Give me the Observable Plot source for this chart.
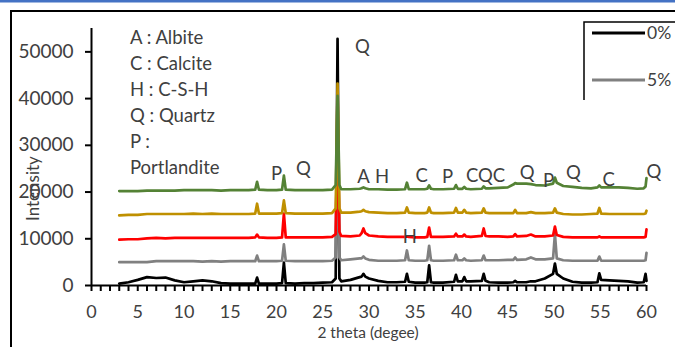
<!DOCTYPE html>
<html><head><meta charset="utf-8">
<script src="https://cdn.jsdelivr.net/npm/d3@7"></script>
<script src="https://cdn.jsdelivr.net/npm/@observablehq/plot@0.6"></script>
<style>
html,body{margin:0;padding:0;background:#fff;overflow:hidden}
#chart{position:relative;width:675px;height:347px}
</style></head><body><div id="chart"></div>
<script>
// 2 theta grid (degrees)
const theta = [3,4,5,6,7,8,9,10,11,12,13,14,15,16,17,17.7,17.9,18.1,19,20,20.6,20.8,21.0,22,23,24,25,26,26.4,26.6,26.8,27,28,29,29.2,29.4,29.6,30,31,32,33,33.9,34.1,34.3,35,36,36.3,36.5,36.7,37,38,39.2,39.4,39.6,40.1,40.3,40.5,41,42.2,42.4,42.6,43,44,45,45.6,45.8,46.0,47,47.5,48,49,49.9,50.1,50.3,51,52,53,54,54.7,54.9,55.1,56,57,58,59,59.7,59.9,60];
// intensities (already offset as drawn)
const s0 = [400,700,1200,1800,1600,1700,1100,700,900,1100,900,500,400,400,400,400,1700,400,400,400,500,4900,500,400,500,500,600,700,1500,52800,1500,900,1200,1800,1900,2500,1900,1500,1000,700,700,800,2500,800,600,600,700,4300,700,600,600,800,2300,900,900,1800,900,900,1000,2500,1000,700,600,600,700,1000,700,700,900,900,1500,2500,4700,2500,1500,800,600,600,700,2600,1200,1100,1000,900,600,700,2500,1000];
const s5 = [5000,5000,5000,5000,5200,5200,5200,5200,5200,5100,5200,5100,5200,5200,5200,5200,6400,5200,5200,5200,5300,8800,5300,5200,5200,5200,5200,5300,6000,30000,6000,5400,5600,5800,5800,6200,5800,5500,5300,5300,5300,5400,7500,5400,5300,5300,5400,8500,5400,5300,5300,5400,6600,5400,5400,5800,5400,5300,5400,6400,5400,5400,5400,5500,5500,6000,5500,5600,6000,5600,5600,5800,11000,5800,5400,5300,5300,5300,5300,6200,5300,5300,5300,5300,5300,5300,5400,7000];
const s10 = [9800,9900,9900,10100,10200,10100,10200,10200,10200,10200,10200,10200,10200,10200,10200,10300,10900,10300,10200,10200,10300,15400,10300,10300,10300,10300,10300,10400,11000,35000,11500,10600,10500,10700,11200,12200,11200,10700,10500,10400,10400,10400,10500,10400,10300,10300,10400,12400,10400,10400,10400,10500,11100,10500,10500,10900,10500,10400,10600,12200,10600,10500,10500,10400,10500,11000,10500,10600,10900,10500,10500,10700,12600,10800,10400,10300,10300,10300,10300,10500,10300,10300,10300,10300,10300,10300,10400,12000];
const s15 = [15000,15100,15100,15300,15300,15300,15300,15300,15400,15300,15400,15300,15300,15300,15300,15400,17500,15400,15400,15400,15500,18200,15500,15400,15400,15400,15400,15500,16500,43200,16500,15600,15600,15800,15900,16200,15900,15700,15600,15500,15500,15600,16700,15600,15500,15500,15600,16700,15600,15500,15500,15600,16600,15600,15600,16200,15600,15500,15600,16500,15600,15500,15500,15500,15500,16200,15500,15500,15700,15500,15500,15600,16500,15600,15300,15200,15200,15300,15400,16600,15400,15300,15300,15300,15300,15300,15400,16000];
const s20 = [20200,20200,20200,20300,20300,20300,20300,20400,20400,20400,20400,20300,20400,20400,20400,20500,22200,20500,20400,20400,20500,23500,20500,20400,20400,20400,20400,20500,21500,40600,21500,20600,20600,20700,20800,21000,20800,20600,20600,20500,20500,20600,22000,20600,20600,20600,20700,21400,20700,20600,20600,20700,21500,20700,20700,21100,20700,20600,20700,21200,20800,20800,20900,21000,21600,21900,21800,21800,21700,21500,21400,21800,23100,22000,21300,21100,20900,20800,21000,21400,21000,21000,21000,20900,20700,20800,21200,23000];
const seriesNames = ["0%","5%","10%","15%","20%"];
const seriesColors = ["#000000","#808080","#ff0000","#bf9000","#548235"];
// peak annotations
const peakLabels = ["P","Q","Q","A","H","C","P","CQC","Q","P","Q","C","Q","H"];
const peakLabelX = [20.0,22.9,29.3,29.4,31.4,35.7,38.5,42.6,47.1,49.4,52.1,55.9,60.8,34.4];
const peakLabelY = [23900,25000,51000,23300,23300,23500,23300,23500,24150,22450,24150,22650,24350,10450];
const keyLines = ["A : Albite","C : Calcite","H : C-S-H","Q : Quartz","P :","Portlandite"];
const xTickLabels = [0,5,10,15,20,25,30,35,40,45,50,55,60];
const xMinorTicks = d3.range(0,61,1);
const yTickLabels = [0,10000,20000,30000,40000,50000];

const all = [s0,s5,s10,s15,s20];
const rows = [];
all.forEach((ys,k)=>ys.forEach((y,i)=>rows.push({x:theta[i], y, s:seriesNames[k], k})));
const labels = peakLabels.map((t,i)=>({t, x:peakLabelX[i], y:peakLabelY[i]}));

const FONT = "Lato";
const TXT = "#404040";

const plot = Plot.plot({
  width:675, height:347,
  marginLeft:91, marginRight:29, marginTop:28, marginBottom:62,
  x:{domain:[0,60]},
  y:{domain:[0,55000]},
  style:{fontFamily:FONT, color:TXT, background:"transparent", overflow:"visible"},
  marks:[
    ...seriesNames.map((n,k)=>Plot.line(rows.filter(r=>r.k===k),{x:"x",y:"y",stroke:seriesColors[k],strokeWidth:2.7,strokeLinejoin:"round"})),
    Plot.ruleY([0],{stroke:"#000",strokeWidth:2}),
    Plot.ruleX([0],{stroke:"#000",strokeWidth:2}),
    Plot.axisX({ticks:xMinorTicks, tickSize:6, stroke:"#000", strokeWidth:2, text:null, label:null}),
    Plot.axisX({ticks:xTickLabels, tickSize:0, tickPadding:20, fontSize:18, fill:TXT, label:null}),
    Plot.axisY({ticks:yTickLabels, tickSize:6, stroke:"#000", strokeWidth:2, tickPadding:12, fontSize:19, fill:TXT, tickFormat:d=>String(d), label:null}),
    Plot.text(labels,{x:"x",y:"y",text:"t",fontSize:18.5,fill:TXT,textAnchor:"middle",lineAnchor:"middle"})
  ]
});

const svg = d3.select(plot);
// outer chart frame + top blue strip
svg.insert("rect",":first-child").attr("x",11).attr("y",11).attr("width",700).attr("height",400).attr("fill","none").attr("stroke","#000").attr("stroke-width",2);
svg.insert("rect",":first-child").attr("x",0).attr("y",0).attr("width",675).attr("height",2.5).attr("fill","#4472c4");
// axis titles
svg.append("text").attr("x",368).attr("y",338).attr("text-anchor","middle").attr("font-family",FONT).attr("font-size",15.5).attr("fill",TXT).text("2 theta (degee)");
svg.append("clipPath").attr("id","yclip").append("rect").attr("x",0).attr("y",146).attr("width",60).attr("height",100);
svg.append("g").attr("clip-path","url(#yclip)")
  .append("text").attr("transform","translate(39,221) rotate(-90)").attr("text-anchor","start").attr("font-family",FONT).attr("font-size",17).attr("fill",TXT).text("Intensity");
// mineral key
keyLines.forEach((t,i)=>{
  svg.append("text").attr("x",130).attr("y",38+26*i).attr("dy","0.35em").attr("text-anchor","start").attr("font-family",FONT).attr("font-size",18.5).attr("fill",TXT).text(t);
});
// legend (partially cut at right edge)
svg.append("path").attr("d","M584,100V22H700").attr("fill","none").attr("stroke","#000").attr("stroke-width",1.5);
[0,1].forEach(k=>{
  const y = 33 + 47*k;
  svg.append("line").attr("x1",592).attr("x2",645).attr("y1",y).attr("y2",y).attr("stroke",seriesColors[k]).attr("stroke-width",3);
  svg.append("text").attr("x",647).attr("y",y).attr("dy","0.35em").attr("text-anchor","start").attr("font-family",FONT).attr("font-size",17.5).attr("fill",TXT).text(seriesNames[k]);
});
document.getElementById("chart").appendChild(plot);
</script></body></html>
